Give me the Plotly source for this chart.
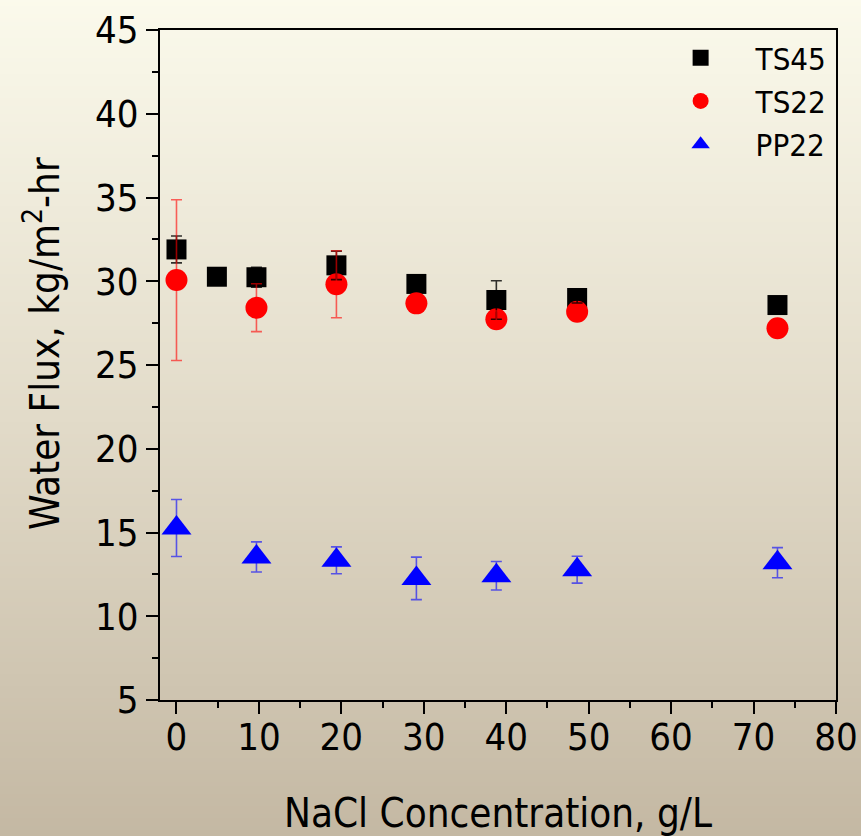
import plotly.graph_objects as go

# ---- data ----
x_ts45 = [0, 4.9, 9.7, 19.4, 29.1, 38.8, 48.6, 72.9]
y_ts45 = [31.9, 30.27, 30.24, 30.95, 29.84, 28.88, 29.0, 28.58]
e_ts45 = [0.8, 0.3, 0.6, 0.85, 0.2, 1.15, 0.3, 0.2]

x_ts22 = [0, 9.7, 19.4, 29.1, 38.8, 48.6, 72.9]
y_ts22 = [30.07, 28.42, 29.82, 28.68, 27.73, 28.18, 27.19]
e_ts22 = [4.8, 1.43, 2.0, 0.3, 0.5, 0.3, 0.3]

x_pp22 = [0, 9.7, 19.4, 29.1, 38.8, 48.6, 72.9]
y_pp22 = [15.27, 13.54, 13.34, 12.26, 12.42, 12.78, 13.2]
e_pp22 = [1.7, 0.9, 0.8, 1.27, 0.85, 0.8, 0.9]

x_ticks = [0, 10, 20, 30, 40, 50, 60, 70, 80]
y_ticks = [5, 10, 15, 20, 25, 30, 35, 40, 45]

x_title = "NaCl Concentration, g/L"
y_title = "Water Flux, kg/m<sup>2</sup>-hr"

FONT = "DejaVu Sans Condensed, Liberation Sans, Arial, sans-serif"

W, H = 861, 836
ML, MR, MT, MB = 160, 25, 30, 136

fig = go.Figure()

series = [
    ("TS45", x_ts45, y_ts45, e_ts45, "black", "square", 20, "rgba(0,0,0,0.8)"),
    ("TS22", x_ts22, y_ts22, e_ts22, "red", "circle", 22, "rgba(255,0,0,0.6)"),
    ("PP22", x_pp22, y_pp22, e_pp22, "blue", "triangle-up", 26, "rgba(0,0,255,0.6)"),
]

for name, xs, ys, es, col, sym, sz, ecol in series:
    fig.add_trace(go.Scatter(
        x=xs, y=ys, mode="markers", name=name,
        marker=dict(color=col, symbol=sym, size=sz, line=dict(width=0)),
        hoverinfo="x+y",
    ))

# error bars drawn above all markers
for name, xs, ys, es, col, sym, sz, ecol in series:
    fig.add_trace(go.Scatter(
        x=xs, y=ys, mode="markers", showlegend=False,
        marker=dict(color=col, size=1, opacity=0),
        error_y=dict(type="data", array=es, visible=True,
                     color=ecol, thickness=1.6, width=5.5),
        hoverinfo="skip",
    ))

# vertical background gradient (paper coordinates)
stops = [(0.0, (251, 250, 236)), (0.5, (226, 219, 201)), (1.0, (196, 184, 163))]

def col_at(t):
    for (t0, c0), (t1, c1) in zip(stops[:-1], stops[1:]):
        if t <= t1:
            f = (t - t0) / (t1 - t0)
            return tuple(round(a + (b - a) * f) for a, b in zip(c0, c1))
    return stops[-1][1]

ph = H - MT - MB
pw = W - ML - MR
shapes = []
band = 4
for py in range(-8, H + 8, band):
    c = col_at(min(max((py + band / 2) / H, 0), 1))
    y1 = (H - MB - py + 2) / ph
    y0 = (H - MB - (py + band + 2)) / ph
    shapes.append(dict(type="rect", xref="paper", yref="paper",
                       x0=-0.5, x1=1.5, y0=y0, y1=y1,
                       fillcolor="rgb(%d,%d,%d)" % c, line=dict(width=0),
                       layer="below"))

axis_common = dict(
    showline=True, linecolor="black", linewidth=2, mirror=True,
    ticks="outside", ticklen=12, tickwidth=2, tickcolor="black",
    showgrid=False, zeroline=False, automargin=False,
    tickfont=dict(family=FONT, size=38, color="black"),
)

fig.update_layout(
    width=W, height=H, autosize=False,
    margin=dict(l=ML, r=MR, t=MT, b=MB, autoexpand=False),
    paper_bgcolor="rgb(226,219,201)",
    plot_bgcolor="rgba(0,0,0,0)",
    shapes=shapes,
    font=dict(family=FONT, color="black"),
    xaxis=dict(range=[-2, 80], tickvals=x_ticks, ticklabelstandoff=-10,
               minor=dict(dtick=5, ticklen=6, tickwidth=2, tickcolor="black", ticks="outside"),
               title=dict(text=x_title,
                          font=dict(family=FONT, size=40), standoff=42),
               **axis_common),
    yaxis=dict(range=[5, 45], tickvals=y_ticks,
               minor=dict(dtick=2.5, ticklen=6, tickwidth=2, tickcolor="black", ticks="outside"),
               **axis_common),
    annotations=[dict(text=y_title, textangle=-90, showarrow=False,
                      xref="paper", yref="paper",
                      x=(42 - ML) / pw, y=(H - MB - 344) / ph,
                      xanchor="center", yanchor="middle",
                      font=dict(family=FONT, size=40, color="black"))],
    legend=dict(x=0.995, y=0.9985, xanchor="right", yanchor="top",
                bgcolor="rgba(0,0,0,0)", borderwidth=0,
                font=dict(family=FONT, size=31, color="black"),
                itemwidth=100, tracegroupgap=0),
    showlegend=True,
)

post = (
    "document.documentElement.style.margin='0';"
    "document.documentElement.style.padding='0';"
    "document.documentElement.style.overflow='hidden';"
    "document.body.style.margin='0';"
    "document.body.style.padding='0';"
    "document.body.style.overflow='hidden';"
    "var gd=document.getElementById('{plot_id}');"
    "gd.style.position='fixed';gd.style.left='0px';gd.style.top='0px';"
)

fig.write_html("out.html",
               config={"displayModeBar": False, "responsive": False},
               post_script=post)
